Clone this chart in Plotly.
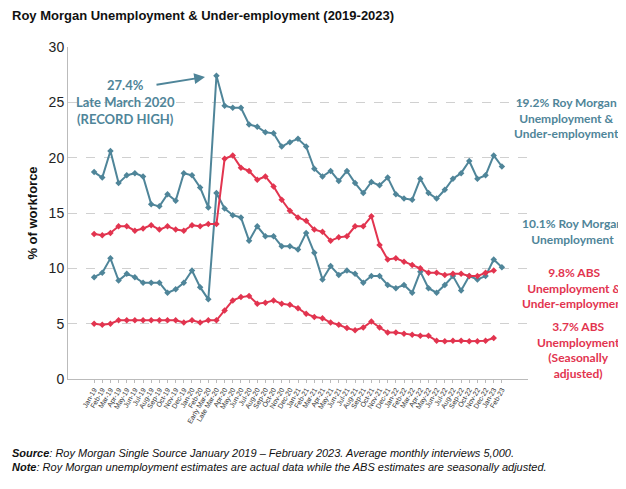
import plotly.graph_objects as go

months = ["Jan-19","Feb-19","Mar-19","Apr-19","May-19","Jun-19","Jul-19","Aug-19","Sep-19","Oct-19","Nov-19","Dec-19",
          "Jan-20","Feb-20","Early Mar-20","Late Mar-20","Apr-20","May-20","Jun-20","Jul-20","Aug-20","Sep-20","Oct-20","Nov-20","Dec-20",
          "Jan-21","Feb-21","Mar-21","Apr-21","May-21","Jun-21","Jul-21","Aug-21","Sep-21","Oct-21","Nov-21","Dec-21",
          "Jan-22","Feb-22","Mar-22","Apr-22","May-22","Jun-22","Jul-22","Aug-22","Sep-22","Oct-22","Nov-22","Dec-22",
          "Jan-23","Feb-23"]

rm_under = [18.7,18.2,20.6,17.7,18.4,18.6,18.3,15.8,15.6,16.7,16.1,18.6,18.4,17.3,15.5,27.4,
            24.7,24.5,24.5,23.0,22.8,22.3,22.2,21.0,21.4,21.7,21.0,19.0,18.3,18.8,17.9,18.8,17.7,16.8,17.8,17.5,18.2,
            16.7,16.3,16.2,18.1,16.8,16.3,17.1,18.1,18.6,19.7,18.1,18.4,20.2,19.2]
rm_unemp = [9.2,9.6,10.9,8.9,9.5,9.2,8.7,8.7,8.7,7.8,8.1,8.7,9.8,8.3,7.2,16.8,
            15.4,14.8,14.6,12.5,13.8,12.9,12.9,12.0,12.0,11.7,13.2,11.4,9.0,10.2,9.4,9.8,9.5,8.7,9.3,9.3,8.5,
            8.2,8.5,7.8,9.7,8.2,7.8,8.5,9.3,8.0,9.3,9.0,9.3,10.8,10.1]
abs_under = [13.1,13.0,13.2,13.8,13.8,13.4,13.6,13.9,13.5,13.8,13.5,13.4,13.9,13.8,14.0,14.0,
             19.9,20.2,19.1,18.8,18.0,18.3,17.4,16.2,15.2,14.6,14.3,13.5,13.3,12.5,12.8,12.9,13.8,13.8,14.7,12.1,10.8,
             10.9,10.6,10.3,10.0,9.6,9.6,9.4,9.5,9.5,9.3,9.3,9.6,9.8,None]
abs_unemp = [5.0,4.9,5.0,5.3,5.3,5.3,5.3,5.3,5.3,5.3,5.3,5.1,5.3,5.1,5.3,5.3,
             6.2,7.1,7.4,7.5,6.8,6.9,7.1,6.8,6.7,6.4,5.9,5.6,5.5,5.1,4.9,4.6,4.4,4.65,5.2,4.65,4.2,
             4.2,4.1,4.0,3.9,3.9,3.45,3.4,3.45,3.45,3.4,3.4,3.45,3.7,None]

BLUE = "#4f8599"
RED = "#e2344f"

fig = go.Figure()
for y, c in [(rm_under, BLUE), (rm_unemp, BLUE), (abs_under, RED), (abs_unemp, RED)]:
    fig.add_trace(go.Scatter(x=months, y=y, mode="lines+markers",
                             line=dict(color=c, width=2),
                             marker=dict(symbol="diamond", size=5, color=c),
                             showlegend=False, connectgaps=False))

F = "Lato"
OX, OY = 8, 8
L, T, W, H = 60, 39, 460, 332
def fx(x): return (x - OX - L) / W
def fy(y): return (T + H - (y - OY)) / H
def px(x, y, text, color, size=12):
    return dict(text=text, x=fx(x), y=fy(y), xref="paper", yref="paper", showarrow=False,
                font=dict(family=F, size=size, color=color), xanchor="center", yanchor="middle", align="center")
anns = [
    px(125, 102, "<b>27.4%<br>Late March 2020<br>(RECORD HIGH)</b>", BLUE, 13),
    px(566, 118, "<b>19.2% Roy Morgan<br>Under-employment &<br>Under-employment</b>".replace("Under-employment &<br>Under", "Unemployment &<br>Under"), BLUE),
    px(572, 231, "<b>10.1% Roy Morgan<br>Unemployment</b>", BLUE),
    px(574, 288, "<b>9.8% ABS<br>Unemployment &<br>Under-employment</b>", RED),
    px(578, 350, "<b>3.7% ABS<br>Unemployment<br>(Seasonally<br>adjusted)</b>", RED),
]
anns.append(dict(x=fx(205), y=fy(77), xref="paper", yref="paper", text="", showarrow=True,
                 arrowhead=2, arrowsize=1.2, arrowwidth=1.8, arrowcolor=BLUE, ax=-50, ay=8))
anns.append(dict(text="<b>Roy Morgan Unemployment & Under-employment (2019-2023)</b>",
                 x=fx(10), y=fy(16), xref="paper", yref="paper", showarrow=False,
                 xanchor="left", yanchor="middle", font=dict(family="Liberation Sans", size=13, color="#111")))
anns.append(dict(text="<b><i>Source</i></b><i>: Roy Morgan Single Source January 2019 – February 2023. Average monthly interviews 5,000.</i>"
                      "<br><b><i>Note</i></b><i>: Roy Morgan unemployment estimates are actual data while the ABS estimates are seasonally adjusted.</i>",
                 x=fx(10), y=fy(460), xref="paper", yref="paper", showarrow=False, align="left",
                 xanchor="left", yanchor="middle", font=dict(family="Liberation Sans", size=11, color="#111")))

fig.update_layout(
    width=618, height=481, margin=dict(l=L, r=618 - L - W, t=T, b=481 - T - H),
    paper_bgcolor="white", plot_bgcolor="white",
    annotations=anns,
    xaxis=dict(type="category", tickangle=-60, tickfont=dict(family="Liberation Sans", size=7, color="#333"),
               showline=True, linecolor="#bbb", ticks="outside", ticklen=3, tickcolor="#bbb", showgrid=False),
    yaxis=dict(range=[0, 30], dtick=5, tickfont=dict(family="Liberation Sans", size=14, color="#222"),
               showgrid=True, gridcolor="#d0d0d0", griddash="dash", zeroline=False,
               showline=True, linecolor="#bbb",
               title=dict(text="<b>% of workforce</b>", font=dict(family="Liberation Sans", size=13, color="#111"), standoff=8)),
)
fig.write_html("out.html")
